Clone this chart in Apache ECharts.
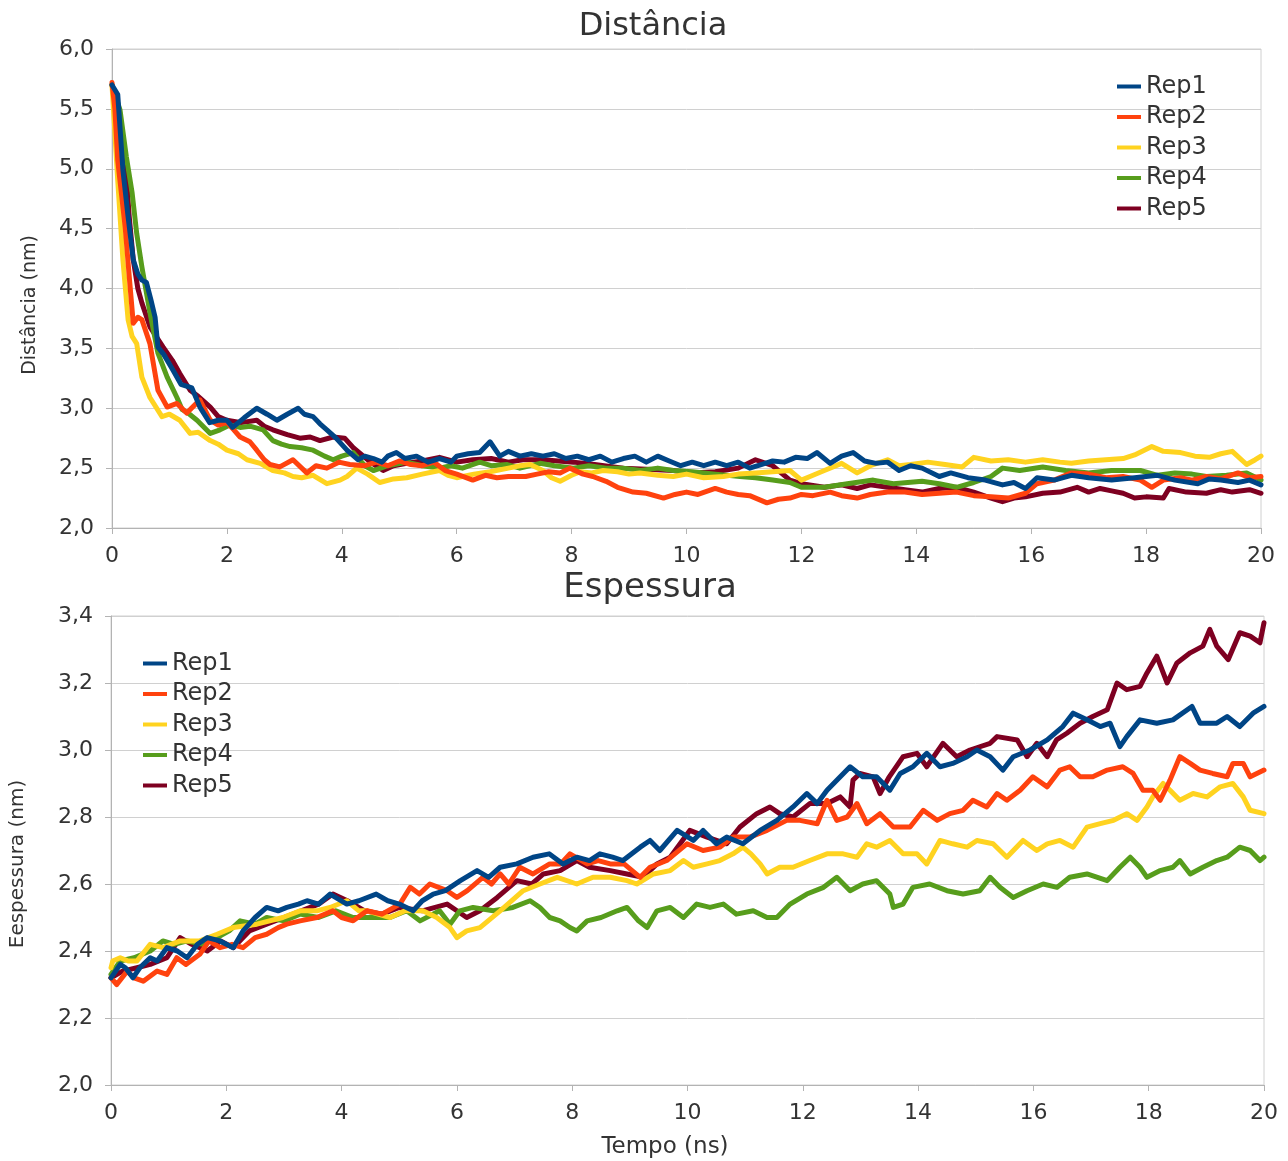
<!DOCTYPE html>
<html>
<head>
<meta charset="utf-8">
<script src="https://cdn.jsdelivr.net/npm/echarts@6/dist/echarts.min.js"></script>
<style>
html,body{margin:0;padding:0;background:#fff;}
#chart{width:1288px;height:1161px;}
</style>
</head>
<body>
<div id="chart"></div>
<script>
// ---------- DATA ----------
const seriesNames = ['Rep1', 'Rep2', 'Rep3', 'Rep4', 'Rep5'];
const xTicks = [0, 2, 4, 6, 8, 10, 12, 14, 16, 18, 20];
const distTicks = [2.0, 2.5, 3.0, 3.5, 4.0, 4.5, 5.0, 5.5, 6.0];
const espTicks = [2.0, 2.2, 2.4, 2.6, 2.8, 3.0, 3.2, 3.4];

// Distância (nm) vs Tempo (ns)
const distRep1 = [[0,5.70],[0.1,5.62],[0.19,4.99],[0.28,4.6],[0.37,4.24],[0.45,4.12],[0.52,4.07],[0.6,4.05],[0.68,3.9],[0.75,3.76],[0.8,3.51],[0.9,3.45],[1.06,3.32],[1.2,3.2],[1.39,3.17],[1.53,3.01],[1.7,2.88],[1.85,2.9],[2.0,2.9],[2.1,2.84],[2.3,2.92],[2.52,3.0],[2.7,2.95],[2.87,2.9],[3.05,2.95],[3.24,3.0],[3.35,2.95],[3.5,2.93],[3.62,2.87],[3.74,2.82],[3.9,2.75],[4.09,2.65],[4.28,2.57],[4.4,2.6],[4.55,2.58],[4.7,2.55],[4.8,2.6],[4.95,2.63],[5.1,2.58],[5.3,2.6],[5.5,2.55],[5.7,2.58],[5.9,2.55],[6.0,2.6],[6.2,2.62],[6.4,2.63],[6.58,2.72],[6.75,2.6],[6.9,2.64],[7.1,2.6],[7.3,2.62],[7.5,2.6],[7.7,2.62],[7.9,2.58],[8.1,2.6],[8.3,2.57],[8.5,2.6],[8.7,2.55],[8.9,2.58],[9.1,2.6],[9.3,2.55],[9.5,2.6],[9.7,2.56],[9.9,2.52],[10.1,2.55],[10.3,2.52],[10.5,2.55],[10.7,2.52],[10.9,2.55],[11.1,2.5],[11.3,2.53],[11.5,2.56],[11.7,2.55],[11.9,2.59],[12.1,2.58],[12.27,2.63],[12.5,2.54],[12.7,2.6],[12.9,2.63],[13.1,2.56],[13.3,2.54],[13.5,2.55],[13.7,2.48],[13.9,2.52],[14.1,2.5],[14.4,2.43],[14.6,2.46],[14.9,2.42],[15.2,2.4],[15.5,2.36],[15.7,2.38],[15.9,2.33],[16.1,2.42],[16.4,2.4],[16.7,2.44],[17.0,2.42],[17.4,2.4],[17.8,2.42],[18.2,2.44],[18.5,2.4],[18.9,2.37],[19.1,2.41],[19.3,2.4],[19.6,2.38],[19.8,2.4],[20,2.36]];
const distRep2 = [[0,5.72],[0.05,5.5],[0.1,5.07],[0.23,4.51],[0.3,4.1],[0.37,3.71],[0.45,3.76],[0.52,3.74],[0.66,3.54],[0.8,3.15],[0.96,3.01],[1.13,3.04],[1.3,2.96],[1.53,3.07],[1.71,2.9],[1.85,2.86],[2.0,2.88],[2.12,2.82],[2.23,2.76],[2.4,2.72],[2.52,2.65],[2.65,2.57],[2.75,2.53],[2.92,2.51],[3.15,2.57],[3.39,2.46],[3.55,2.52],[3.74,2.5],[3.95,2.55],[4.14,2.53],[4.4,2.52],[4.6,2.55],[4.8,2.52],[5.0,2.56],[5.2,2.53],[5.4,2.52],[5.6,2.55],[5.8,2.48],[6.0,2.45],[6.28,2.4],[6.5,2.44],[6.7,2.42],[6.9,2.43],[7.2,2.43],[7.4,2.45],[7.6,2.47],[7.8,2.46],[7.97,2.5],[8.2,2.45],[8.37,2.43],[8.6,2.39],[8.8,2.34],[9.07,2.3],[9.3,2.29],[9.6,2.25],[9.8,2.28],[10.0,2.3],[10.2,2.28],[10.5,2.33],[10.7,2.3],[10.9,2.28],[11.1,2.27],[11.4,2.21],[11.6,2.24],[11.8,2.25],[12.0,2.28],[12.2,2.27],[12.5,2.3],[12.7,2.27],[12.97,2.25],[13.2,2.28],[13.5,2.3],[13.8,2.3],[14.1,2.28],[14.4,2.29],[14.7,2.3],[15.0,2.27],[15.3,2.26],[15.6,2.25],[15.9,2.29],[16.1,2.37],[16.4,2.4],[16.7,2.46],[17.0,2.45],[17.3,2.42],[17.6,2.43],[17.9,2.4],[18.1,2.34],[18.3,2.4],[18.6,2.42],[18.8,2.4],[19.05,2.43],[19.3,2.41],[19.6,2.46],[19.8,2.42],[20,2.43]];
const distRep3 = [[0,5.7],[0.1,4.9],[0.19,4.24],[0.28,3.74],[0.35,3.6],[0.43,3.54],[0.52,3.26],[0.66,3.09],[0.87,2.93],[1.0,2.95],[1.18,2.9],[1.36,2.79],[1.5,2.8],[1.71,2.73],[1.85,2.7],[2.0,2.65],[2.2,2.62],[2.35,2.57],[2.58,2.54],[2.8,2.48],[3.0,2.46],[3.15,2.43],[3.3,2.42],[3.5,2.44],[3.74,2.37],[3.97,2.4],[4.09,2.43],[4.26,2.5],[4.45,2.45],[4.66,2.38],[4.9,2.41],[5.13,2.42],[5.4,2.45],[5.7,2.48],[5.85,2.44],[6.0,2.42],[6.3,2.45],[6.58,2.47],[6.9,2.5],[7.1,2.52],[7.28,2.53],[7.5,2.48],[7.65,2.42],[7.8,2.39],[8.0,2.44],[8.15,2.47],[8.35,2.46],[8.55,2.48],[8.8,2.47],[9.0,2.45],[9.19,2.46],[9.5,2.44],[9.77,2.43],[10.0,2.45],[10.3,2.42],[10.64,2.43],[10.9,2.45],[11.2,2.46],[11.5,2.47],[11.8,2.48],[12.0,2.4],[12.15,2.43],[12.4,2.48],[12.7,2.54],[12.97,2.46],[13.2,2.52],[13.5,2.57],[13.7,2.52],[13.9,2.53],[14.2,2.55],[14.5,2.53],[14.8,2.51],[15.0,2.59],[15.3,2.56],[15.6,2.57],[15.9,2.55],[16.2,2.57],[16.5,2.55],[16.7,2.54],[17.0,2.56],[17.3,2.57],[17.6,2.58],[17.8,2.61],[18.1,2.68],[18.3,2.64],[18.6,2.63],[18.85,2.6],[19.1,2.59],[19.3,2.62],[19.5,2.64],[19.75,2.53],[19.9,2.57],[20,2.6]];
const distRep4 = [[0,5.7],[0.14,5.49],[0.25,5.1],[0.35,4.8],[0.43,4.46],[0.52,4.18],[0.66,3.8],[0.8,3.46],[0.96,3.26],[1.13,3.09],[1.22,2.99],[1.35,2.95],[1.48,2.9],[1.71,2.79],[1.88,2.82],[2.05,2.86],[2.23,2.84],[2.4,2.85],[2.63,2.82],[2.8,2.73],[2.95,2.7],[3.1,2.68],[3.3,2.67],[3.5,2.65],[3.7,2.6],[3.85,2.57],[4.0,2.6],[4.2,2.63],[4.4,2.52],[4.55,2.48],[4.8,2.52],[5.13,2.55],[5.4,2.52],[5.7,2.5],[5.9,2.52],[6.1,2.5],[6.4,2.55],[6.6,2.52],[6.88,2.53],[7.1,2.5],[7.45,2.54],[7.7,2.52],[8.03,2.5],[8.3,2.52],[8.6,2.5],[8.9,2.5],[9.2,2.48],[9.5,2.5],[9.77,2.48],[10.1,2.47],[10.5,2.45],[10.93,2.43],[11.2,2.42],[11.5,2.4],[11.8,2.38],[12.0,2.34],[12.4,2.34],[12.8,2.37],[13.25,2.4],[13.6,2.37],[14.1,2.39],[14.4,2.37],[14.7,2.34],[15.0,2.38],[15.3,2.43],[15.5,2.5],[15.8,2.48],[16.2,2.51],[16.6,2.48],[17.0,2.46],[17.4,2.48],[17.9,2.48],[18.2,2.44],[18.5,2.46],[18.8,2.45],[19.05,2.43],[19.4,2.44],[19.75,2.46],[20,2.4]];
const distRep5 = [[0,5.7],[0.14,5.35],[0.23,5.07],[0.3,4.6],[0.37,4.24],[0.45,4.0],[0.52,3.88],[0.66,3.68],[0.89,3.51],[1.05,3.4],[1.18,3.29],[1.36,3.15],[1.5,3.1],[1.71,3.01],[1.85,2.93],[2.0,2.9],[2.25,2.88],[2.52,2.9],[2.65,2.85],[2.8,2.82],[3.05,2.78],[3.27,2.75],[3.45,2.76],[3.62,2.73],[3.85,2.76],[4.05,2.75],[4.2,2.67],[4.5,2.55],[4.72,2.48],[4.9,2.52],[5.13,2.54],[5.4,2.56],[5.7,2.59],[6.0,2.55],[6.28,2.57],[6.6,2.58],[6.9,2.55],[7.15,2.57],[7.5,2.57],[8.03,2.55],[8.4,2.53],[8.9,2.5],[9.3,2.49],[9.77,2.48],[10.1,2.46],[10.5,2.47],[10.9,2.5],[11.2,2.57],[11.5,2.52],[11.8,2.4],[12.0,2.37],[12.4,2.34],[12.7,2.36],[12.97,2.33],[13.2,2.36],[13.5,2.34],[13.8,2.32],[14.1,2.3],[14.4,2.33],[14.7,2.34],[15.0,2.3],[15.3,2.25],[15.5,2.22],[15.7,2.25],[15.9,2.26],[16.2,2.29],[16.5,2.3],[16.8,2.34],[17.0,2.3],[17.2,2.33],[17.4,2.31],[17.6,2.29],[17.8,2.25],[18.0,2.26],[18.3,2.25],[18.4,2.33],[18.7,2.3],[19.05,2.29],[19.3,2.32],[19.5,2.3],[19.8,2.32],[20,2.29]];

// Espessura (nm) vs Tempo (ns)
const espRep1 = [[0,2.32],[0.16,2.36],[0.25,2.35],[0.38,2.32],[0.5,2.35],[0.68,2.38],[0.8,2.37],[0.97,2.41],[1.15,2.4],[1.32,2.38],[1.5,2.42],[1.67,2.44],[1.89,2.43],[2.12,2.41],[2.29,2.46],[2.5,2.5],[2.7,2.53],[2.9,2.52],[3.05,2.53],[3.25,2.54],[3.4,2.55],[3.6,2.54],[3.8,2.57],[4.09,2.54],[4.3,2.55],[4.6,2.57],[4.8,2.55],[5.0,2.54],[5.24,2.52],[5.4,2.55],[5.59,2.57],[5.8,2.58],[6.06,2.61],[6.35,2.64],[6.55,2.62],[6.75,2.65],[7.04,2.66],[7.32,2.68],[7.6,2.69],[7.84,2.66],[8.08,2.68],[8.3,2.67],[8.48,2.69],[8.7,2.68],[8.88,2.67],[9.18,2.71],[9.35,2.73],[9.52,2.7],[9.82,2.76],[10.1,2.73],[10.27,2.76],[10.5,2.72],[10.68,2.74],[10.96,2.72],[11.26,2.76],[11.55,2.79],[11.83,2.83],[12.07,2.87],[12.25,2.84],[12.42,2.88],[12.59,2.91],[12.82,2.95],[13.04,2.92],[13.28,2.92],[13.51,2.88],[13.69,2.93],[13.91,2.95],[14.15,2.99],[14.38,2.95],[14.6,2.96],[14.85,2.98],[15.02,3.0],[15.25,2.98],[15.47,2.94],[15.65,2.98],[15.94,3.0],[16.24,3.03],[16.51,3.07],[16.69,3.11],[16.93,3.09],[17.16,3.07],[17.33,3.08],[17.5,3.01],[17.62,3.04],[17.85,3.09],[18.14,3.08],[18.42,3.09],[18.75,3.13],[18.89,3.08],[19.18,3.08],[19.36,3.1],[19.58,3.07],[19.81,3.11],[20,3.13]];
const espRep2 = [[0,2.32],[0.1,2.3],[0.28,2.34],[0.4,2.32],[0.56,2.31],[0.8,2.34],[0.97,2.33],[1.14,2.38],[1.3,2.36],[1.54,2.39],[1.7,2.43],[1.89,2.41],[2.1,2.42],[2.29,2.41],[2.5,2.44],[2.7,2.45],[2.9,2.47],[3.05,2.48],[3.28,2.49],[3.57,2.5],[3.85,2.52],[4.0,2.5],[4.2,2.49],[4.44,2.52],[4.7,2.51],[5.01,2.54],[5.19,2.59],[5.35,2.57],[5.53,2.6],[5.83,2.58],[6.0,2.56],[6.18,2.58],[6.45,2.62],[6.6,2.6],[6.75,2.63],[6.9,2.6],[7.09,2.65],[7.32,2.63],[7.61,2.66],[7.8,2.66],[7.96,2.69],[8.26,2.66],[8.45,2.67],[8.66,2.66],[8.9,2.66],[9.18,2.62],[9.35,2.65],[9.64,2.67],[9.99,2.72],[10.27,2.7],[10.56,2.71],[10.79,2.74],[11.08,2.74],[11.38,2.76],[11.72,2.79],[11.95,2.79],[12.25,2.78],[12.42,2.85],[12.59,2.79],[12.77,2.8],[12.94,2.84],[13.11,2.78],[13.34,2.81],[13.57,2.77],[13.86,2.77],[14.09,2.82],[14.33,2.79],[14.55,2.81],[14.78,2.82],[14.95,2.85],[15.19,2.83],[15.37,2.87],[15.54,2.85],[15.77,2.88],[15.99,2.92],[16.24,2.89],[16.46,2.94],[16.63,2.95],[16.81,2.92],[17.03,2.92],[17.28,2.94],[17.55,2.95],[17.73,2.93],[17.9,2.88],[18.07,2.88],[18.2,2.85],[18.37,2.91],[18.54,2.98],[18.72,2.96],[18.89,2.94],[19.11,2.93],[19.36,2.92],[19.46,2.96],[19.64,2.96],[19.76,2.92],[20,2.94]];
const espRep3 = [[0,2.35],[0.03,2.37],[0.16,2.38],[0.3,2.37],[0.45,2.37],[0.68,2.42],[0.9,2.41],[1.2,2.43],[1.54,2.43],[1.84,2.45],[2.12,2.47],[2.53,2.48],[2.98,2.5],[3.28,2.52],[3.57,2.52],[3.8,2.53],[4.09,2.55],[4.3,2.52],[4.44,2.52],[4.84,2.5],[5.1,2.52],[5.41,2.52],[5.65,2.5],[5.88,2.47],[6.0,2.44],[6.17,2.46],[6.4,2.47],[6.75,2.52],[7.15,2.58],[7.44,2.6],[7.74,2.62],[8.08,2.6],[8.36,2.62],[8.66,2.62],[8.95,2.61],[9.12,2.6],[9.41,2.63],[9.7,2.64],[9.93,2.67],[10.1,2.65],[10.34,2.66],[10.56,2.67],[10.79,2.69],[10.96,2.71],[11.1,2.69],[11.26,2.66],[11.38,2.63],[11.6,2.65],[11.83,2.65],[12.12,2.67],[12.42,2.69],[12.7,2.69],[12.94,2.68],[13.11,2.72],[13.28,2.71],[13.51,2.73],[13.74,2.69],[13.98,2.69],[14.15,2.66],[14.38,2.73],[14.6,2.72],[14.85,2.71],[15.02,2.73],[15.3,2.72],[15.54,2.68],[15.82,2.73],[16.06,2.7],[16.24,2.72],[16.46,2.73],[16.69,2.71],[16.93,2.77],[17.16,2.78],[17.39,2.79],[17.62,2.81],[17.8,2.79],[17.97,2.83],[18.07,2.86],[18.25,2.9],[18.37,2.88],[18.54,2.85],[18.77,2.87],[19.01,2.86],[19.24,2.89],[19.46,2.9],[19.64,2.86],[19.76,2.82],[20,2.81]];
const espRep4 = [[0,2.33],[0.16,2.37],[0.4,2.38],[0.68,2.4],[0.9,2.43],[1.1,2.42],[1.32,2.43],[1.6,2.42],[1.84,2.44],[2.05,2.46],[2.24,2.49],[2.5,2.48],[2.7,2.5],[3.0,2.49],[3.28,2.51],[3.6,2.5],[3.9,2.52],[4.2,2.5],[4.44,2.5],[4.84,2.5],[5.13,2.52],[5.36,2.49],[5.7,2.52],[5.88,2.48],[6.05,2.52],[6.28,2.53],[6.63,2.52],[6.97,2.53],[7.27,2.55],[7.44,2.53],[7.61,2.5],[7.79,2.49],[7.96,2.47],[8.08,2.46],[8.26,2.49],[8.5,2.5],[8.78,2.52],[8.95,2.53],[9.15,2.49],[9.3,2.47],[9.47,2.52],[9.7,2.53],[9.93,2.5],[10.16,2.54],[10.39,2.53],[10.62,2.54],[10.85,2.51],[11.14,2.52],[11.38,2.5],[11.55,2.5],[11.78,2.54],[12.07,2.57],[12.36,2.59],[12.59,2.62],[12.82,2.58],[13.04,2.6],[13.28,2.61],[13.51,2.57],[13.57,2.53],[13.74,2.54],[13.91,2.59],[14.2,2.6],[14.5,2.58],[14.78,2.57],[15.07,2.58],[15.25,2.62],[15.42,2.59],[15.65,2.56],[15.89,2.58],[16.17,2.6],[16.41,2.59],[16.63,2.62],[16.93,2.63],[17.28,2.61],[17.5,2.65],[17.68,2.68],[17.85,2.65],[17.97,2.62],[18.2,2.64],[18.42,2.65],[18.54,2.67],[18.72,2.63],[18.94,2.65],[19.18,2.67],[19.36,2.68],[19.58,2.71],[19.76,2.7],[19.93,2.67],[20,2.68]];
const espRep5 = [[0,2.32],[0.2,2.34],[0.45,2.35],[0.68,2.36],[0.97,2.38],[1.2,2.44],[1.4,2.42],[1.67,2.4],[1.9,2.43],[2.12,2.41],[2.4,2.46],[2.7,2.48],[3.0,2.5],[3.3,2.52],[3.6,2.54],[3.85,2.57],[4.1,2.55],[4.4,2.52],[4.7,2.51],[5.0,2.53],[5.4,2.52],[5.83,2.54],[6.0,2.52],[6.17,2.5],[6.4,2.52],[6.7,2.56],[7.04,2.61],[7.3,2.6],[7.5,2.63],[7.79,2.64],[8.08,2.67],[8.3,2.65],[8.66,2.64],[8.95,2.63],[9.23,2.62],[9.47,2.66],[9.7,2.68],[10.04,2.76],[10.34,2.74],[10.68,2.72],[10.91,2.77],[11.2,2.81],[11.43,2.83],[11.6,2.81],[11.83,2.8],[12.12,2.84],[12.42,2.84],[12.65,2.86],[12.82,2.83],[12.87,2.91],[12.99,2.93],[13.22,2.92],[13.34,2.87],[13.5,2.92],[13.74,2.98],[13.98,2.99],[14.15,2.95],[14.43,3.02],[14.67,2.98],[14.9,3.0],[15.25,3.02],[15.37,3.04],[15.72,3.03],[15.89,2.98],[16.06,3.02],[16.24,2.98],[16.4,3.03],[16.58,3.05],[16.81,3.08],[17.03,3.1],[17.28,3.12],[17.45,3.2],[17.62,3.18],[17.85,3.19],[17.97,3.23],[18.14,3.28],[18.32,3.2],[18.49,3.26],[18.72,3.29],[18.94,3.31],[19.06,3.36],[19.18,3.31],[19.38,3.27],[19.58,3.35],[19.76,3.34],[19.93,3.32],[20,3.38]];

// ---------- STYLE ----------
const colors = ['#004586', '#ff420e', '#ffd320', '#579d1c', '#7e0021'];
const FONT = 'DejaVu Sans';
const TXT = '#333333';
const AXC = '#b3b3b3';
const GRC = '#d0d0d0';

const distData = [distRep1, distRep2, distRep3, distRep4, distRep5];
const espData = [espRep1, espRep2, espRep3, espRep4, espRep5];

const fmt = v => Number(v).toFixed(1).replace('.', ',');

function xAxis(gridIndex) {
  return {
    gridIndex, type: 'value', min: xTicks[0], max: xTicks[xTicks.length - 1], interval: 2,
    axisLine: { show: true, lineStyle: { color: AXC, width: 1 } },
    axisTick: { show: true, length: 6, lineStyle: { color: AXC } },
    axisLabel: { fontFamily: FONT, fontSize: 22, color: TXT, margin: 17 },
    splitLine: { show: false }
  };
}
function yAxis(gridIndex, ticks, interval) {
  return {
    gridIndex, type: 'value', min: ticks[0], max: ticks[ticks.length - 1], interval,
    axisLine: { show: true, lineStyle: { color: AXC, width: 1 } },
    axisTick: { show: true, length: 6, lineStyle: { color: AXC } },
    axisLabel: { fontFamily: FONT, fontSize: 22, color: TXT, margin: 18, formatter: fmt },
    splitLine: { show: true, lineStyle: { color: GRC, width: 1 } }
  };
}

const series = [];
seriesNames.forEach((n, i) => {
  series.push({ name: n, type: 'line', xAxisIndex: 0, yAxisIndex: 0, data: distData[i],
    showSymbol: false, symbol: 'none', z: 10 - i,
    lineStyle: { width: 5, color: colors[i], join: 'round', cap: 'round' }, itemStyle: { color: colors[i] } });
});
seriesNames.forEach((n, i) => {
  series.push({ name: n, type: 'line', xAxisIndex: 1, yAxisIndex: 1, data: espData[i],
    showSymbol: false, symbol: 'none', z: 10 - i,
    lineStyle: { width: 5, color: colors[i], join: 'round', cap: 'round' }, itemStyle: { color: colors[i] } });
});

const legendCommon = {
  orient: 'vertical', icon: 'rect', itemWidth: 24, itemHeight: 4, itemGap: 5.5, padding: 0,
  textStyle: { fontFamily: FONT, fontSize: 24, color: TXT, lineHeight: 25 },
  data: seriesNames
};

const nameStyle = { fontFamily: FONT, fill: TXT, textAlign: 'center', textVerticalAlign: 'middle' };

const chart = echarts.init(document.getElementById('chart'), null, { renderer: 'canvas' });
chart.setOption({
  animation: false,
  backgroundColor: '#ffffff',
  color: colors,
  legend: [
    Object.assign({ left: 1117, top: 74 }, legendCommon),
    Object.assign({ left: 143, top: 651 }, legendCommon)
  ],
  grid: [
    { left: 112, top: 49, width: 1149, height: 479, show: true, borderColor: GRC, borderWidth: 1, backgroundColor: 'transparent', containLabel: false, outerBoundsMode: 'none' },
    { left: 111, top: 616, width: 1153, height: 469, show: true, borderColor: GRC, borderWidth: 1, backgroundColor: 'transparent', containLabel: false, outerBoundsMode: 'none' }
  ],
  xAxis: [xAxis(0), xAxis(1)],
  yAxis: [yAxis(0, distTicks, 0.5), yAxis(1, espTicks, 0.2)],
  graphic: [
    { type: 'text', x: 653, y: 27, style: Object.assign({ text: 'Distância', fontSize: 32 }, nameStyle) },
    { type: 'text', x: 650, y: 588, style: Object.assign({ text: 'Espessura', fontSize: 34 }, nameStyle) },
    { type: 'text', x: 30, y: 305, rotation: Math.PI / 2, style: Object.assign({ text: 'Distância (nm)', fontSize: 19 }, nameStyle) },
    { type: 'text', x: 18, y: 864, rotation: Math.PI / 2, style: Object.assign({ text: 'Eespessura (nm)', fontSize: 20 }, nameStyle) },
    { type: 'text', x: 665, y: 1147, style: Object.assign({ text: 'Tempo (ns)', fontSize: 23 }, nameStyle) }
  ],
  series
});
</script>
</body>
</html>
